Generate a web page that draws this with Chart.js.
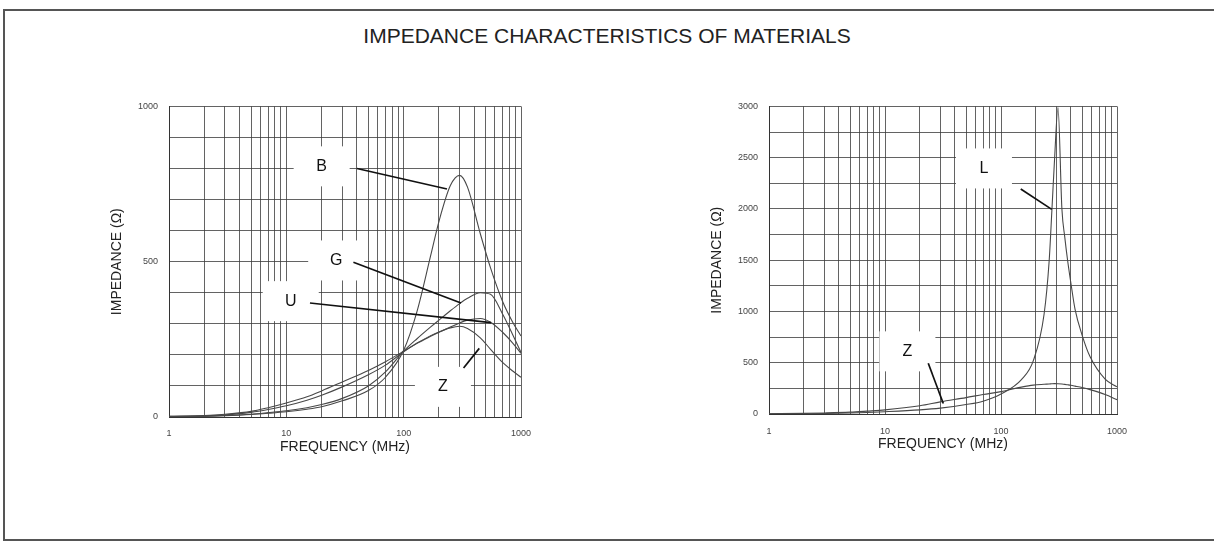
<!DOCTYPE html>
<html>
<head>
<meta charset="utf-8">
<script src="https://cdn.jsdelivr.net/npm/chart.js@4.4.1/dist/chart.umd.min.js"></script>
<style>
  html, body { margin: 0; padding: 0; background: #fff; }
  body { width: 1214px; height: 544px; position: relative; overflow: hidden; font-family: 'Liberation Sans', Arial, sans-serif; }
  #frame { position: absolute; left: 3px; top: 9px; width: 1211px; height: 532px; box-sizing: border-box;
           border-top: 2px solid #555; border-left: 2px solid #555; border-bottom: 2px solid #555; }
  #title { position: absolute; left: 0; top: 24px; width: 1214px; text-align: center; font-size: 21px; line-height: 24px; color: #222; }
  canvas { position: absolute; top: 90px; }
  #left { left: 90px; }
  #right { left: 690px; }
</style>
</head>
<body>
<div id="frame"></div>
<div id="title">IMPEDANCE CHARACTERISTICS OF MATERIALS</div>
<canvas id="left" width="460" height="380"></canvas>
<canvas id="right" width="460" height="380"></canvas>
<script>
// frequencies (MHz) and impedance (ohm)
const freqLeft = [1, 2, 3, 5, 7, 10, 15, 20, 30, 50, 70, 100, 130, 170, 200, 250, 300, 350, 450, 550, 700, 850, 1000];
const matB = [1, 2, 4, 8, 12, 17, 25, 33, 52, 85, 128, 215, 340, 520, 630, 745, 778, 740, 590, 480, 370, 305, 261];
const matG = [1, 3, 5, 9, 14, 20, 30, 40, 60, 100, 145, 212, 252, 290, 312, 342, 365, 382, 400, 395, 330, 265, 208];
const matU = [2, 4, 7, 15, 24, 36, 54, 70, 97, 136, 167, 210, 237, 260, 273, 290, 303, 312, 317, 305, 272, 238, 205];
const matZ = [2, 5, 9, 18, 30, 45, 65, 84, 113, 150, 178, 212, 238, 262, 274, 287, 292, 285, 255, 218, 175, 148, 128];

const freqRight = [1, 2, 3, 5, 7, 10, 20, 30, 50, 70, 100, 150, 190, 235, 260, 275, 290, 310, 335, 355, 375, 400, 435, 500, 585, 790, 1000];
const matL = [1, 3, 5, 10, 15, 22, 40, 57, 92, 125, 195, 335, 520, 970, 1490, 2000, 2500, 2990, 2000, 1720, 1500, 1280, 1020, 770, 560, 340, 265];
const matZ2 = [2, 6, 10, 18, 28, 40, 80, 118, 160, 190, 218, 262, 282, 290, 293, 295, 296, 295, 292, 289, 285, 280, 272, 258, 238, 190, 140];

const freqTickLabels = [1, 10, 100, 1000];
const leftImpLabels = [0, 500, 1000];
const rightImpLabels = [0, 500, 1000, 1500, 2000, 2500, 3000];

// callouts: letter, where the letter sits, leader line ends (all in data units)
const leftNames = ['B', 'G', 'U', 'Z'];
const leftAt = [[20, 807], [26.6, 504], [10.9, 373], [216, 97]];
const leftLeaders = [[[40, 800], [234, 734]], [[37.3, 498], [308, 367]], [[15.9, 367], [556, 304]], [[324, 158], [441, 221]]];
const rightNames = ['L', 'Z'];
const rightAt = [[71.3, 2395], [15.6, 611]];
const rightLeaders = [[[148, 2195], [274, 1996]], [[23.6, 495], [31.8, 103]]];

// vertical grid lines 1..9, 10..90, 100..1000
const gridFreqs = [];
for (let d = 1; d <= 100; d *= 10) {
  for (let m = 1; m < 10; m++) gridFreqs.push(m * d);
}
gridFreqs.push(1000);

Chart.defaults.font.family = "'Liberation Sans', Arial, Helvetica, sans-serif";

function callouts(names, at, leaders) {
  return {
    id: 'callouts',
    beforeDatasetsDraw(chart) {
      const { ctx, scales: { x, y } } = chart;
      ctx.save();
      ctx.fillStyle = '#fff';
      at.forEach(p => {
        const px = x.getPixelForValue(p[0]);
        const py = y.getPixelForValue(p[1]);
        ctx.fillRect(px - 28, py - 20, 56, 40);
      });
      ctx.restore();
    },
    afterDatasetsDraw(chart) {
      const { ctx, scales: { x, y } } = chart;
      ctx.save();
      ctx.strokeStyle = '#111';
      ctx.lineWidth = 1.7;
      leaders.forEach(l => {
        ctx.beginPath();
        ctx.moveTo(x.getPixelForValue(l[0][0]), y.getPixelForValue(l[0][1]));
        ctx.lineTo(x.getPixelForValue(l[1][0]), y.getPixelForValue(l[1][1]));
        ctx.stroke();
      });
      ctx.fillStyle = '#111';
      ctx.font = "16px 'Liberation Sans', Arial, sans-serif";
      ctx.textAlign = 'center';
      ctx.textBaseline = 'middle';
      names.forEach((n, i) => {
        ctx.fillText(n, x.getPixelForValue(at[i][0]), y.getPixelForValue(at[i][1]));
      });
      ctx.restore();
    }
  };
}

function impedanceChart(id, freqs, series, yMax, yStep, yShown, fit, plugin) {
  return new Chart(document.getElementById(id), {
    type: 'line',
    data: {
      datasets: series.map(s => ({
        data: freqs.map((f, i) => ({ x: f, y: s[i] })),
        borderColor: '#484848',
        borderWidth: 1.1,
        pointRadius: 0,
        fill: false,
        cubicInterpolationMode: 'monotone'
      }))
    },
    options: {
      responsive: false,
      animation: false,
      devicePixelRatio: 1,
      layout: { padding: { top: 13, right: fit.right, left: 0, bottom: 0 } },
      plugins: { legend: { display: false }, tooltip: { enabled: false } },
      scales: {
        x: {
          type: 'logarithmic',
          min: 1,
          max: 1000,
          afterBuildTicks: ax => { ax.ticks = gridFreqs.map(v => ({ value: v })); },
          afterFit: ax => { ax.height = fit.xh; },
          grid: { color: 'rgba(60,60,60,0.8)', lineWidth: 1, drawTicks: false },
          border: { color: '#333', width: 1 },
          ticks: {
            autoSkip: false, maxRotation: 0, padding: fit.xtp, color: '#444', font: { size: 9 },
            callback: v => freqTickLabels.includes(v) ? String(v) : ''
          },
          title: { display: true, text: 'FREQUENCY (MHz)', color: '#222', font: { size: 14 }, padding: { top: 0, bottom: fit.xpb } }
        },
        y: {
          min: 0,
          max: yMax,
          afterFit: ax => { ax.width = 79; },
          grid: { color: 'rgba(60,60,60,0.8)', lineWidth: 1, drawTicks: false },
          border: { color: '#333', width: 1 },
          ticks: {
            stepSize: yStep, autoSkip: false, padding: 11, color: '#444', font: { size: 9 },
            callback: v => yShown.includes(v) ? String(v) : ''
          },
          title: { display: true, text: 'IMPEDANCE (Ω)', color: '#222', font: { size: 14 }, padding: { top: 18.6, bottom: 0 } }
        }
      }
    },
    plugins: [plugin]
  });
}

impedanceChart('left', freqLeft, [matB, matG, matU, matZ], 1000, 100, leftImpLabels,
  { right: 29, xh: 53, xtp: 11.5, xpb: 14.6 }, callouts(leftNames, leftAt, leftLeaders));
impedanceChart('right', freqRight, [matL, matZ2], 3000, 250, rightImpLabels,
  { right: 33, xh: 56, xtp: 12.5, xpb: 17.6 }, callouts(rightNames, rightAt, rightLeaders));
</script>
</body>
</html>
